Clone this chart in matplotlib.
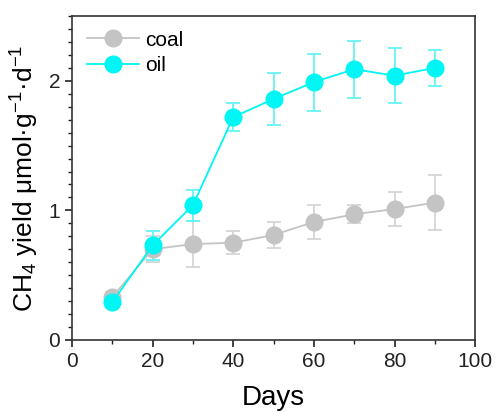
import numpy as np
import matplotlib
matplotlib.use("Agg")
import matplotlib.pyplot as plt
from matplotlib.ticker import MultipleLocator

plt.rcParams.update({
    "font.family": ["Liberation Sans", "DejaVu Sans"],
    "mathtext.fontset": "custom",
    "mathtext.rm": "Liberation Sans",
    "mathtext.it": "Liberation Sans:italic",
    "mathtext.bf": "Liberation Sans:bold",
})

days = [10, 20, 30, 40, 50, 60, 70, 80, 90]
coal = [0.33, 0.70, 0.74, 0.75, 0.81, 0.91, 0.97, 1.01, 1.06]
coal_err = [0.04, 0.10, 0.18, 0.09, 0.10, 0.13, 0.07, 0.13, 0.21]
oil = [0.29, 0.73, 1.04, 1.72, 1.86, 1.99, 2.09, 2.04, 2.10]
oil_err = [0.03, 0.11, 0.12, 0.11, 0.20, 0.22, 0.22, 0.21, 0.14]

fig = plt.figure(figsize=(4.96, 4.12), dpi=100)
ax = fig.add_axes([0.145, 0.175, 0.813, 0.786])

handles = []
for y, e, c, ec, lab in [(coal, coal_err, "#c4c4c4", "#d6d6d6", "coal"),
                         (oil, oil_err, "#00f5f5", "#66f5f5", "oil")]:
    cont = ax.errorbar(days, y, yerr=e, color=c, ecolor=ec, elinewidth=1.3, capsize=5,
                       capthick=1.3, marker="o", markersize=12, lw=1.3, label=lab)
    handles.append(cont.lines[0])

ax.set_xlim(0, 100)
ax.set_ylim(0, 2.5)
ax.xaxis.set_major_locator(MultipleLocator(20))
ax.xaxis.set_minor_locator(MultipleLocator(10))
ax.yaxis.set_major_locator(MultipleLocator(1))
ax.yaxis.set_minor_locator(MultipleLocator(0.1))
ax.tick_params(which="major", direction="out", length=5, width=1.2, labelsize=15, colors="#222222")
ax.tick_params(which="minor", direction="out", length=3, width=1, colors="#222222")
for s in ax.spines.values():
    s.set_color("#333333")
    s.set_linewidth(1.2)

ax.set_xlabel("Days", fontsize=20, labelpad=10)
ax.set_ylabel("CH$_4$ yield μmol·g$^{\\mathrm{-1}}$·d$^{\\mathrm{-1}}$", fontsize=19, labelpad=5)

ax.legend(handles=handles, labels=["coal", "oil"], loc="upper left", frameon=False,
          fontsize=15, handlelength=2.5, handletextpad=0.3, borderaxespad=0.3,
          labelspacing=0.3)

fig.savefig("out.png", dpi=100)
